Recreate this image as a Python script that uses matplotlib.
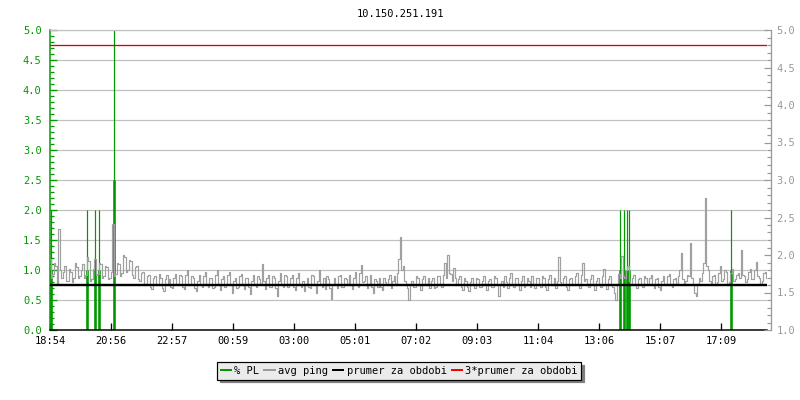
import matplotlib
matplotlib.use("Agg")
import matplotlib.pyplot as plt
from matplotlib.ticker import MultipleLocator
from matplotlib.lines import Line2D
import numpy as np

# minutes since 18:54
t_end = 1426
tick_min = [0, 121.3, 242.7, 364, 485.3, 606.7, 728, 849.3, 970.7, 1092, 1213.3, 1334.7]
tick_lab = ["18:54", "20:56", "22:57", "00:59", "03:00", "05:01",
            "07:02", "09:03", "11:04", "13:06", "15:07", "17:09"]

# % packet loss events (left axis)
pl_time = [2, 73.6, 89.5, 97.5, 126.3, 1133.7, 1140.7, 1146.7, 1151.6, 1353.5]
pl_peak = [2.0, 2.0, 2.0, 2.0, 5.0, 2.0, 2.0, 2.0, 2.0, 2.0]
pl_base = [1.0, 1.0, 1.0, 1.0, 2.5, 1.0, 1.0, 1.0, 1.0, 1.0]

# avg ping (right axis)
ping = [
    1.95, 1.7, 1.75, 1.9, 1.85, 1.62, 2.35, 1.8, 1.7, 1.78, 1.85, 1.66, 1.65, 1.82, 1.78, 1.64, 1.7, 1.9, 1.84, 1.7,
    1.72, 1.8, 1.88, 1.7, 1.74, 1.98, 1.92, 1.66, 1.68, 1.82, 1.95, 1.74, 1.75, 1.9, 1.88, 1.7, 1.72, 1.86, 1.84, 1.68,
    1.7, 1.78, 2.41, 1.72, 1.75, 1.9, 1.88, 1.72, 1.76, 2.0, 1.97, 1.78, 1.8, 1.94, 1.92, 1.74, 1.7, 1.84, 1.86, 1.68,
    1.65, 1.76, 1.78, 1.6, 1.62, 1.72, 1.74, 1.58, 1.55, 1.7, 1.72, 1.6, 1.6, 1.75, 1.7, 1.56, 1.52, 1.68, 1.74, 1.6,
    1.68, 1.58, 1.56, 1.7, 1.75, 1.62, 1.6, 1.73, 1.72, 1.57, 1.55, 1.74, 1.8, 1.6, 1.6, 1.72, 1.7, 1.56, 1.52, 1.66,
    1.74, 1.6, 1.58, 1.72, 1.77, 1.6, 1.57, 1.7, 1.7, 1.56, 1.58, 1.74, 1.8, 1.62, 1.54, 1.68, 1.72, 1.58, 1.6, 1.74,
    1.78, 1.6, 1.5, 1.66, 1.7, 1.56, 1.58, 1.72, 1.75, 1.6, 1.55, 1.7, 1.7, 1.58, 1.48, 1.66, 1.73, 1.6, 1.58, 1.72,
    1.68, 1.62, 1.88, 1.66, 1.55, 1.7, 1.74, 1.58, 1.57, 1.72, 1.7, 1.56, 1.45, 1.66, 1.76, 1.6, 1.58, 1.74, 1.72, 1.58,
    1.62, 1.7, 1.74, 1.58, 1.54, 1.7, 1.76, 1.6, 1.58, 1.66, 1.52, 1.62, 1.7, 1.58, 1.56, 1.74, 1.72, 1.6, 1.5, 1.66,
    1.8, 1.62, 1.58, 1.7, 1.55, 1.72, 1.68, 1.56, 1.42, 1.6, 1.7, 1.62, 1.56, 1.72, 1.74, 1.58, 1.58, 1.7, 1.68, 1.6,
    1.74, 1.6, 1.55, 1.7, 1.78, 1.6, 1.58, 1.76, 1.87, 1.64, 1.66, 1.72, 1.56, 1.62, 1.74, 1.58, 1.5, 1.68, 1.66, 1.58,
    1.7, 1.58, 1.54, 1.7, 1.64, 1.6, 1.68, 1.74, 1.56, 1.66, 1.72, 1.62, 1.76, 1.95, 2.24, 1.8, 1.85, 1.66, 1.62, 1.56,
    1.4, 1.6, 1.66, 1.58, 1.58, 1.72, 1.7, 1.6, 1.54, 1.68, 1.72, 1.6, 1.6, 1.7, 1.56, 1.66, 1.7, 1.56, 1.58, 1.72,
    1.72, 1.62, 1.58, 1.74, 1.9, 1.7, 2.0, 1.76, 1.75, 1.66, 1.83, 1.7, 1.6, 1.68, 1.72, 1.58, 1.54, 1.7, 1.66, 1.58,
    1.52, 1.64, 1.7, 1.6, 1.56, 1.7, 1.68, 1.58, 1.58, 1.66, 1.72, 1.6, 1.54, 1.66, 1.68, 1.58, 1.58, 1.72, 1.7, 1.6,
    1.45, 1.6, 1.66, 1.58, 1.72, 1.64, 1.56, 1.7, 1.76, 1.6, 1.58, 1.7, 1.7, 1.6, 1.54, 1.66, 1.72, 1.58, 1.6, 1.7,
    1.66, 1.58, 1.72, 1.62, 1.56, 1.7, 1.7, 1.6, 1.58, 1.72, 1.7, 1.58, 1.54, 1.68, 1.74, 1.6, 1.6, 1.7, 1.56, 1.66,
    1.97, 1.64, 1.6, 1.7, 1.72, 1.58, 1.54, 1.68, 1.7, 1.6, 1.6, 1.72, 1.76, 1.6, 1.56, 1.74, 1.9, 1.66, 1.68, 1.6,
    1.58, 1.68, 1.74, 1.6, 1.54, 1.66, 1.7, 1.6, 1.58, 1.72, 1.82, 1.62, 1.55, 1.68, 1.72, 1.6, 1.58, 1.5, 1.4, 1.62,
    1.75, 1.7, 1.99, 1.72, 1.7, 1.8, 1.85, 1.66, 1.6, 1.7, 1.74, 1.6, 1.56, 1.68, 1.7, 1.6, 1.58, 1.72, 1.7, 1.6,
    1.62, 1.7, 1.74, 1.6, 1.56, 1.68, 1.7, 1.58, 1.54, 1.66, 1.72, 1.62, 1.6, 1.72, 1.75, 1.6, 1.58, 1.68, 1.7, 1.62,
    1.72, 1.8, 2.03, 1.68, 1.6, 1.66, 1.74, 1.72, 2.16, 1.7, 1.6, 1.5, 1.45, 1.62, 1.7, 1.66, 1.76, 1.9, 2.76, 1.85,
    1.8, 1.66, 1.62, 1.72, 1.74, 1.6, 1.64, 1.76, 1.85, 1.66, 1.68, 1.8, 1.78, 1.62, 1.64, 1.76, 1.82, 1.66, 1.68, 1.74,
    1.76, 1.7, 2.07, 1.74, 1.72, 1.64, 1.68, 1.78, 1.82, 1.68, 1.68, 1.8, 1.91, 1.72, 1.7, 1.62, 1.66, 1.76, 1.78, 1.7,
]
ping_mean = 1.6

GREEN = "#009900"
GRAY = "#999999"
GRID = "#c0c0c0"
px = 0.72  # 1 pixel in points
mono = "DejaVu Sans Mono"

fig = plt.figure(figsize=(8, 4), dpi=100)
ax = fig.add_axes([50 / 800, 70 / 400, 717 / 800, 300 / 400])

ax.set_xlim(0, t_end)
ax.set_ylim(0, 5)
ax.yaxis.set_major_locator(MultipleLocator(0.5))
ax.yaxis.set_minor_locator(MultipleLocator(0.1))
ax.grid(axis="y", which="major", color=GRID, lw=px * 1.2)
ax.set_axisbelow(True)
ax.set_xticks(tick_min)
ax.set_xticklabels(tick_lab, fontfamily=mono, fontsize=7.5)
ax.tick_params(axis="x", direction="in", length=5, width=px * 1.3, color="black", pad=4)
ax.tick_params(axis="y", which="both", direction="in", colors=GREEN,
               width=px * 1.3, labelsize=7.5, pad=6)
ax.tick_params(axis="y", which="major", length=5)
ax.tick_params(axis="y", which="minor", length=3)
for lab in ax.get_yticklabels():
    lab.set_fontfamily(mono)
ax.yaxis.set_major_formatter(plt.FormatStrFormatter("%.1f"))
ax.spines["left"].set_color(GREEN)
ax.spines["left"].set_linewidth(px * 1.5)
ax.spines["bottom"].set_color("black")
ax.spines["bottom"].set_linewidth(px * 1.5)
ax.spines["top"].set_color(GRID)
ax.spines["top"].set_linewidth(px * 1.2)
ax.spines["right"].set_visible(False)

# packet loss spikes
ax.vlines(pl_time, 0, pl_peak, color=GREEN, lw=px * 1.2)
ax.vlines(pl_time, 0, pl_base, color=GREEN, lw=px * 2.6)

ax2 = ax.twinx()
ax2.set_ylim(1, 5)
ax2.yaxis.set_major_locator(MultipleLocator(0.5))
ax2.yaxis.set_minor_locator(MultipleLocator(0.1))
ax2.yaxis.set_major_formatter(plt.FormatStrFormatter("%.1f"))
for s in ["left", "top", "bottom"]:
    ax2.spines[s].set_visible(False)
ax2.spines["right"].set_position(("outward", 3))
ax2.spines["right"].set_color(GRAY)
ax2.spines["right"].set_linewidth(px * 1.3)
ax2.tick_params(axis="y", which="both", direction="in", colors=GRAY,
                width=px * 1.2, labelsize=7.5, pad=4)
ax2.tick_params(axis="y", which="major", length=5)
ax2.tick_params(axis="y", which="minor", length=3)
for lab in ax2.get_yticklabels():
    lab.set_fontfamily(mono)

pt = np.linspace(0, t_end, len(ping))
ax2.plot(pt, ping, color="#a0a0a0", lw=px * 1.2, drawstyle="steps-mid")
ax2.axhline(ping_mean, color="black", lw=px * 2.4)
ax2.axhline(3 * ping_mean, color="#dd0000", lw=px * 1.3)

fig.text(0.5, 1 - 14 / 400, "10.150.251.191", ha="center", va="center",
         fontfamily=mono, fontsize=7.5)

handles = [
    Line2D([], [], color=GREEN, lw=px * 2),
    Line2D([], [], color=GRAY, lw=px * 2),
    Line2D([], [], color="black", lw=px * 2),
    Line2D([], [], color="red", lw=px * 2),
]
labels = ["% PL", "avg ping", "prumer za obdobi", "3*prumer za obdobi"]
leg = fig.legend(handles, labels, loc="center", bbox_to_anchor=(0.499, 1 - 371 / 400),
                 ncol=4, handlelength=1.0, handletextpad=0.3, columnspacing=0.5,
                 borderpad=0.35, fancybox=False, framealpha=1,
                 shadow={"color": "#808080", "alpha": 1},
                 prop={"family": mono, "size": 7.5})
leg.get_frame().set_facecolor("#ebebeb")
leg.get_frame().set_edgecolor("black")
leg.get_frame().set_linewidth(px * 1.2)

fig.savefig("out.png", dpi=100)
